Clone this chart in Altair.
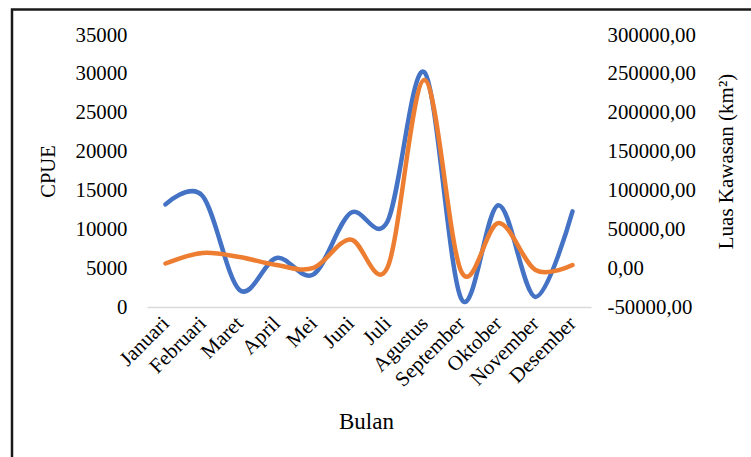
import altair as alt
import pandas as pd

months = ["Januari", "Februari", "Maret", "April", "Mei", "Juni", "Juli",
          "Agustus", "September", "Oktober", "November", "Desember"]
cpue = [13200, 14300, 2200, 6300, 4200, 12100, 11000, 30200, 1000, 13100, 1300, 12300]
luas = [6000, 19500, 14300, 4000, 300, 37000, 1000, 242000, -5000, 58000, -2400, 4000]

df = pd.DataFrame({"Bulan": months, "CPUE": cpue, "Luas": luas})

FONT = "Liberation Serif"
W, H = 444, 272
LEFT, TOP = 147, 35
TICK_FS = 20.8

x_enc = alt.X("Bulan:N", sort=months,
              scale=alt.Scale(type="point", padding=0.5),
              axis=alt.Axis(title="Bulan", labelAngle=-45, labelAlign="right",
                            labelBaseline="middle", labelPadding=13,
                            labelFontSize=TICK_FS, labelFont=FONT, labelColor="#000",
                            titleFont=FONT, titleFontSize=23, titleFontWeight="normal",
                            titleColor="#000", titleX=219, titleY=121,
                            titleAlign="center", titleBaseline="alphabetic",
                            domainColor="#D9D9D9", domainWidth=1.5, ticks=False,
                            grid=False))

blue = alt.Chart(df).mark_line(interpolate="cardinal", color="#4472C4",
                               strokeWidth=4.5, strokeCap="round").encode(
    x=x_enc,
    y=alt.Y("CPUE:Q",
            scale=alt.Scale(domain=[0, 35000], nice=False, zero=False),
            axis=alt.Axis(title="CPUE", values=list(range(0, 35001, 5000)),
                          format="d", labelFont=FONT, labelFontSize=TICK_FS,
                          labelColor="#000", labelPadding=20, domain=False,
                          ticks=False, grid=False, titleFont=FONT,
                          titleFontSize=20.5, titleFontWeight="normal",
                          titleColor="#000", titlePadding=17)),
)

orange = alt.Chart(df).mark_line(interpolate="cardinal", color="#ED7D31",
                                 strokeWidth=4.5, strokeCap="round").encode(
    x=alt.X("Bulan:N", sort=months, scale=alt.Scale(type="point", padding=0.5)),
    y=alt.Y("Luas:Q",
            scale=alt.Scale(domain=[-50000, 300000], nice=False, zero=False),
            axis=alt.Axis(title="Luas Kawasan (km²)", orient="right",
                          values=list(range(-50000, 300001, 50000)),
                          labelExpr="replace(replace(format(datum.value, '.2f'), '.', ','), '\u2212', '-')",
                          labelFont=FONT, labelFontSize=TICK_FS, labelColor="#000",
                          labelPadding=16, domain=False, ticks=False, grid=False,
                          titleFont=FONT, titleFontSize=21, titleAngle=-90,
                          titleFontWeight="normal", titleColor="#000",
                          titleX=141, titleY=126, titleAlign="center",
                          titleBaseline="alphabetic")),
)

border = alt.Chart(alt.Data(values=[{}])).mark_rect(
    fill="white", fillOpacity=0, stroke="#1a1a1a", strokeWidth=2.5).encode(
    x=alt.value(12 - LEFT), x2=alt.value(770 - LEFT),
    y=alt.value(9.5 - TOP), y2=alt.value(470 - TOP))

chart = alt.layer(border, blue, orange).resolve_scale(y="independent").properties(
    width=W, height=H,
    autosize=alt.AutoSizeParams(type="none"),
    padding={"left": LEFT, "top": TOP, "right": 751 - LEFT - W, "bottom": 457 - TOP - H},
    background="white",
).configure_view(stroke=None)

chart.save("out.html", embed_options={"renderer": "svg", "actions": False})
